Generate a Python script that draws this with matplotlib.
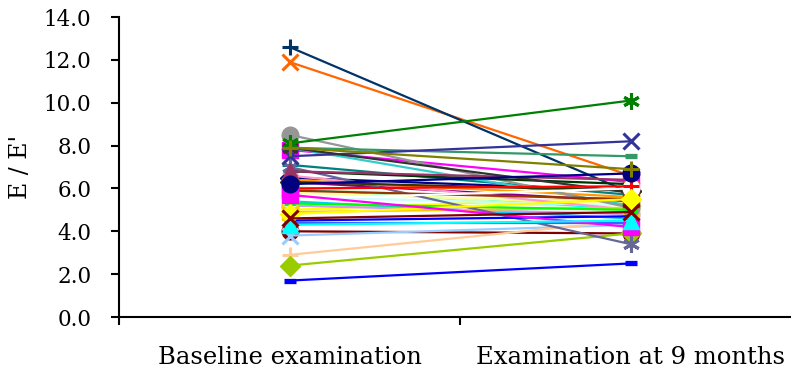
import matplotlib
matplotlib.use("Agg")
import matplotlib.pyplot as plt
from matplotlib.ticker import FixedLocator, NullFormatter

# ---- data ----
timepoints = ["Baseline examination", "Examination at 9 months"]
baseline = [6.5, 7.8, 5.0, 6.0, 6.3, 4.0, 7.1, 1.7, 5.4, 5.6,
            6.1, 5.8, 3.8, 6.6, 5.2, 2.9, 4.4, 7.9, 2.4, 4.9,
            6.4, 11.9, 7.0, 8.5, 12.6, 7.9, 6.8, 6.3, 5.9, 6.8,
            7.5, 7.9, 5.5, 6.0, 5.3, 4.5, 4.8, 5.7, 4.3, 4.6,
            8.1, 6.2, 7.9]
month9 = [5.9, 6.3, 5.6, 5.0, 5.4, 3.9, 5.7, 2.5, 4.6, 5.2,
          4.9, 5.3, 4.3, 5.0, 4.8, 4.5, 4.4, 5.2, 3.9, 5.1,
          5.6, 6.6, 3.4, 5.1, 5.8, 7.5, 6.2, 5.9, 5.5, 6.4,
          8.2, 5.8, 6.0, 6.1, 5.0, 4.7, 5.5, 4.2, 4.5, 4.9,
          10.1, 6.7, 6.9]
y_ticks = [0, 2, 4, 6, 8, 10, 12, 14]
y_label = "E / E'"

# ---- styles (Excel 2003 automatic series) ----
colors = ["#000080", "#FF00FF", "#FFFF00", "#00FFFF", "#800080", "#800000", "#008080", "#0000FF",
          "#00CCFF", "#CCFFFF", "#CCFFCC", "#FFFF99", "#99CCFF", "#FF99CC", "#CC99FF", "#FFCC99",
          "#3366FF", "#33CCCC", "#99CC00", "#FFCC00", "#FF9900", "#FF6600", "#666699", "#969696",
          "#003366", "#339966", "#003300", "#333300", "#993300", "#993366", "#333399", "#333333",
          "#FFFFFF", "#FF0000", "#00FF00", "#0000FF", "#FFFF00", "#FF00FF", "#00FFFF", "#800000",
          "#008000", "#000080", "#808000"]
star = (6, 2, 0)
marker_cycle = ["D", "s", "^", "x", star, "o", "+", "_", "."]

plt.rcParams["font.family"] = ["DejaVu Serif"]

fig = plt.figure(figsize=(7.91, 3.76), dpi=100)
ax = fig.add_axes([119 / 791, 59 / 376, (801 - 119) / 791, 300 / 376])

xs = list(range(len(timepoints)))
for i, (b, m) in enumerate(zip(baseline, month9)):
    mk = marker_cycle[i % 9]
    c = colors[i]
    kw = dict(color=c, lw=1.6, marker=mk, zorder=2 + i * 0.01)
    if mk in ("x", "+", star):
        kw.update(markersize=12, mew=2.2)
    elif mk == "_":
        kw.update(markersize=8, mew=3.8)
    elif mk == ".":
        kw.update(markersize=6)
    elif mk == "D":
        kw.update(markersize=10)
    else:
        kw.update(markersize=12)
    if c == "#FFFFFF":
        kw.update(markeredgecolor="#FFFFFF")
    ax.plot(xs, [b, m], **kw)

ax.set_xlim(-0.5, 1.5)
ax.set_ylim(0, 14)
ax.set_yticks(y_ticks)
ax.set_yticklabels([f"{v:.1f}" for v in y_ticks])
ax.set_ylabel(y_label, fontsize=17, labelpad=8)

ax.xaxis.set_major_locator(FixedLocator([-0.5, 0.5, 1.5]))
ax.xaxis.set_major_formatter(NullFormatter())
ax.xaxis.set_minor_locator(FixedLocator(xs))
ax.set_xticklabels(timepoints, minor=True)
ax.tick_params(axis="x", which="major", direction="out", length=6, width=1.5)
ax.tick_params(axis="x", which="minor", length=0, pad=21, labelsize=17.5)
ax.tick_params(axis="y", direction="out", length=6, width=1.5, pad=14, labelsize=15.5)

for s in ("top", "right"):
    ax.spines[s].set_visible(False)
for s in ("left", "bottom"):
    ax.spines[s].set_linewidth(1.5)

fig.savefig("out.png", dpi=100)
